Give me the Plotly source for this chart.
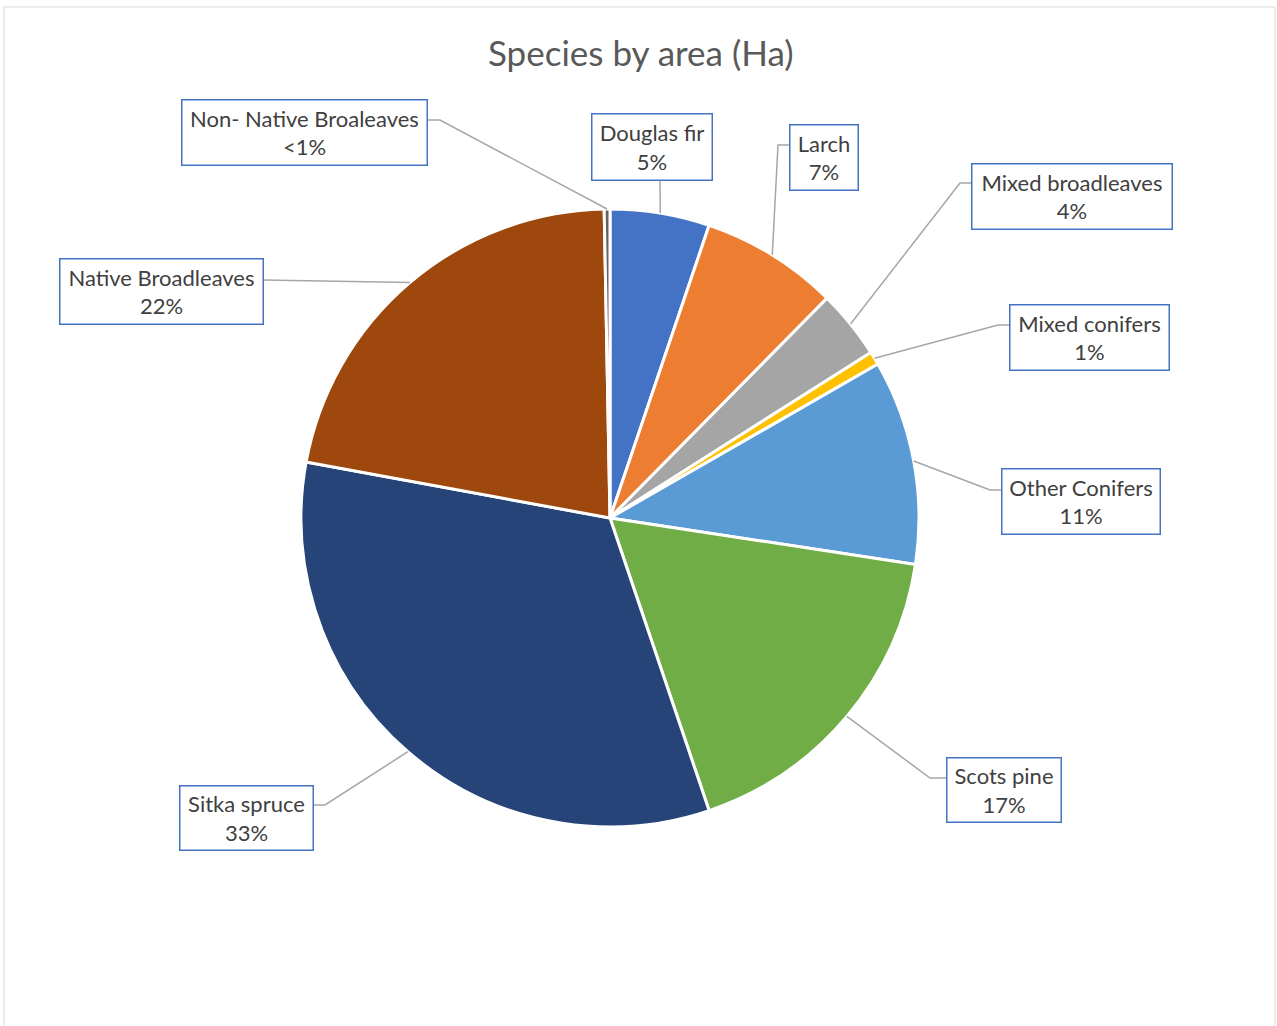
import math
import plotly.graph_objects as go

# ---- data ----
species = ["Douglas fir", "Larch", "Mixed broadleaves", "Mixed conifers",
           "Other Conifers", "Scots pine", "Sitka spruce", "Native Broadleaves",
           "Non- Native Broaleaves"]
area_share = [5.2, 7.2, 3.6, 0.7, 10.7, 17.4, 33.1, 21.8, 0.3]
colors = ["#4472C4", "#ED7D31", "#A5A5A5", "#FFC000", "#5B9BD5",
          "#70AD47", "#264478", "#9E480E", "#636363"]

# ---- layout (pixel space) ----
W, H = 1277, 1026
CX, CY, R = 610, 518, 309
# label box centre, box size, leader elbow, leader end (px)
label_boxes = [
    ((652, 147), (121, 67), None, (660, 180)),
    ((824, 157), (69, 66), (778, 145), (790, 145)),
    ((1072, 196), (201, 66), (960, 183), (972, 183)),
    ((1089, 337), (160, 66), (998, 325), (1009, 325)),
    ((1081, 502), (159, 66), (990, 490), (1002, 490)),
    ((1004, 790), (115, 65), (930, 778), (947, 778)),
    ((246, 818), (134, 65), (325, 805), (313, 805)),
    ((161, 291), (204, 66), None, (263, 280)),
    ((304, 132), (246, 66), (440, 120), (427, 120)),
]

def px(x):
    return x / W

def py(y):
    return 1 - y / H

total = sum(area_share)
pct_text = [(f"{round(v / total * 100)}%" if v / total * 100 >= 0.5 else "<1%")
            for v in area_share]

fig = go.Figure(go.Pie(
    labels=species, values=area_share, sort=False, direction="clockwise",
    rotation=0, marker=dict(colors=colors, line=dict(color="white", width=3)),
    textinfo="none", hoverinfo="label+percent", showlegend=False,
    domain=dict(x=[px(CX - R), px(CX + R)], y=[py(CY + R), py(CY - R)]),
))

shapes = [dict(type="rect", xref="paper", yref="paper",
               x0=px(4), x1=px(1275), y0=py(7), y1=-0.02,
               line=dict(color="#D9D9D9", width=1), fillcolor="rgba(0,0,0,0)")]
annotations = [dict(text="Species by area (Ha)", x=px(641), y=py(52),
                    xref="paper", yref="paper", showarrow=False,
                    xanchor="center", yanchor="middle",
                    font=dict(family="Lato", size=35, color="#595959"))]

cum = 0.0
for name, v, pt, (ctr, size, elbow, end) in zip(species, area_share, pct_text, label_boxes):
    mid = (cum + v / 2) / total * 2 * math.pi
    cum += v
    sx = CX + R * math.sin(mid)
    sy = CY - R * math.cos(mid)
    pts = [(sx, sy)] + ([elbow] if elbow else []) + [end]
    path = "M " + " L ".join(f"{px(a)},{py(b)}" for a, b in pts)
    shapes.append(dict(type="path", xref="paper", yref="paper", path=path,
                       line=dict(color="#A6A6A6", width=1.5)))
    annotations.append(dict(
        text=f"{name}<br>{pt}", x=px(ctr[0]), y=py(ctr[1]),
        xref="paper", yref="paper", showarrow=False,
        xanchor="center", yanchor="middle",
        width=size[0] - 4, height=size[1] - 4, borderpad=1,
        bordercolor="#4472C4", borderwidth=1.5, bgcolor="white",
        font=dict(family="Lato", size=22, color="#404040"),
    ))

fig.update_layout(width=W, height=H, margin=dict(l=0, r=0, t=0, b=0),
                  paper_bgcolor="white", plot_bgcolor="white",
                  shapes=shapes, annotations=annotations)

fig.write_html("out.html", config={"displayModeBar": False},
               post_script="document.body.style.margin='0px';")
